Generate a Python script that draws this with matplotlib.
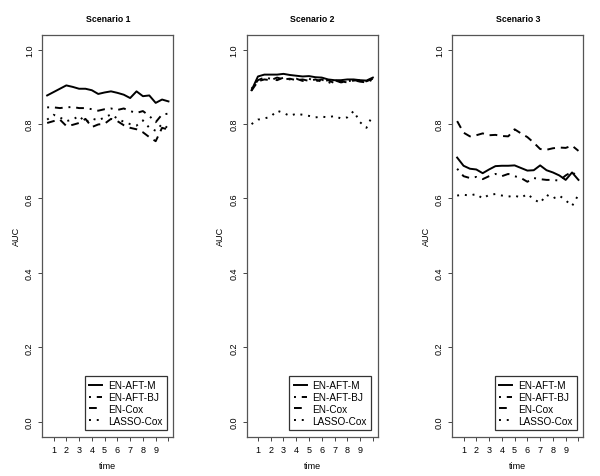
import matplotlib
matplotlib.use('Agg')
import matplotlib.pyplot as plt

plt.rcParams['font.family'] = ['Liberation Sans', 'DejaVu Sans']

# evaluation times
time = [0.5, 1.0, 1.5, 2.0, 2.5, 3.0, 3.5, 4.0, 4.5, 5.0,
        5.5, 6.0, 6.5, 7.0, 7.5, 8.0, 8.5, 9.0, 9.5, 10.0]

methods = ['EN-AFT-M', 'EN-AFT-BJ', 'EN-Cox', 'LASSO-Cox']
titles = ['Scenario 1', 'Scenario 2', 'Scenario 3']

s1_aft_m = [0.877, 0.886, 0.895, 0.904, 0.900, 0.895, 0.895, 0.891, 0.881, 0.885,
            0.888, 0.884, 0.879, 0.870, 0.888, 0.875, 0.877, 0.857, 0.866, 0.861]
s1_aft_bj = [0.845, 0.845, 0.843, 0.845, 0.846, 0.843, 0.843, 0.840, 0.836, 0.840,
             0.842, 0.838, 0.842, 0.835, 0.830, 0.835, 0.822, 0.805, 0.826, 0.828]
s1_en_cox = [0.803, 0.808, 0.812, 0.795, 0.798, 0.803, 0.814, 0.792, 0.799, 0.801,
             0.814, 0.808, 0.797, 0.790, 0.786, 0.778, 0.765, 0.754, 0.790, 0.785]
s1_lasso = [0.812, 0.825, 0.818, 0.808, 0.812, 0.822, 0.805, 0.815, 0.810, 0.818,
            0.826, 0.815, 0.806, 0.800, 0.796, 0.810, 0.790, 0.782, 0.800, 0.788]

s2_aft_m = [0.891, 0.928, 0.933, 0.933, 0.933, 0.935, 0.932, 0.930, 0.928, 0.929,
            0.926, 0.925, 0.920, 0.918, 0.918, 0.920, 0.920, 0.918, 0.917, 0.925]
s2_aft_bj = [0.895, 0.918, 0.925, 0.922, 0.918, 0.925, 0.920, 0.922, 0.916, 0.922,
             0.915, 0.920, 0.910, 0.918, 0.912, 0.915, 0.918, 0.914, 0.912, 0.920]
s2_en_cox = [0.890, 0.915, 0.920, 0.918, 0.925, 0.920, 0.922, 0.918, 0.920, 0.916,
             0.920, 0.914, 0.918, 0.910, 0.915, 0.912, 0.917, 0.918, 0.915, 0.922]
s2_lasso = [0.800, 0.812, 0.815, 0.820, 0.836, 0.830, 0.822, 0.828, 0.825, 0.822,
            0.818, 0.820, 0.818, 0.822, 0.815, 0.818, 0.835, 0.805, 0.790, 0.825]

s3_aft_m = [0.710, 0.688, 0.680, 0.678, 0.668, 0.678, 0.687, 0.688, 0.688, 0.689,
            0.682, 0.675, 0.676, 0.689, 0.676, 0.670, 0.662, 0.650, 0.670, 0.650]
s3_aft_bj = [0.680, 0.660, 0.655, 0.658, 0.652, 0.660, 0.666, 0.660, 0.666, 0.660,
             0.655, 0.645, 0.655, 0.652, 0.650, 0.650, 0.648, 0.662, 0.672, 0.655]
s3_en_cox = [0.808, 0.777, 0.767, 0.770, 0.775, 0.770, 0.771, 0.768, 0.767, 0.786,
             0.775, 0.765, 0.750, 0.733, 0.731, 0.735, 0.737, 0.736, 0.742, 0.728]
s3_lasso = [0.608, 0.610, 0.608, 0.612, 0.600, 0.610, 0.612, 0.608, 0.605, 0.608,
            0.602, 0.612, 0.598, 0.588, 0.610, 0.600, 0.608, 0.595, 0.580, 0.610]

scenarios = [
    [s1_aft_m, s1_aft_bj, s1_en_cox, s1_lasso],
    [s2_aft_m, s2_aft_bj, s2_en_cox, s2_lasso],
    [s3_aft_m, s3_aft_bj, s3_en_cox, s3_lasso],
]

styles = ['-', (0, (1, 3, 4, 3)), (0, (4, 3)), (0, (1, 3))]

W, H = 600, 477
fig = plt.figure(figsize=(6, 4.77), dpi=100)
lefts = [42.3, 246.7, 452.3]
ax_w, ax_top, ax_bot = 131, 35.8, 437.6

for k in range(3):
    ax = fig.add_axes([lefts[k] / W, 1 - ax_bot / H, ax_w / W, (ax_bot - ax_top) / H])
    for vals, ls, lab in zip(scenarios[k], styles, methods):
        ax.plot(time, vals, color='black', linestyle=ls, linewidth=1.4, label=lab)
    ax.set_xlim(0.12, 10.38)
    ax.set_ylim(-0.04, 1.04)
    ax.set_xticks(range(1, 11))
    ax.set_xticklabels([str(i) for i in range(1, 10)] + [''])
    ax.set_yticks([0.0, 0.2, 0.4, 0.6, 0.8, 1.0])
    ax.set_yticklabels(['0.0', '0.2', '0.4', '0.6', '0.8', '1.0'], rotation=90, va='center')
    ax.tick_params(length=3, width=0.7, color='#444', labelsize=6.5, pad=3)
    for sp in ax.spines.values():
        sp.set_color('#555')
        sp.set_linewidth(0.9)
    ax.set_xlabel('time', fontsize=6.5, labelpad=5)
    ax.set_ylabel('AUC', fontsize=6.5, labelpad=3)
    ax.set_title(titles[k], fontsize=6.3, fontweight='bold', pad=10)
    leg = ax.legend(loc='lower right', bbox_to_anchor=(0.952, 0.016), fontsize=7.2,
                    handlelength=1.3, handletextpad=0.6, labelspacing=0.18,
                    borderpad=0.45, borderaxespad=0, fancybox=False, framealpha=1)
    leg.get_frame().set_edgecolor('#333')
    leg.get_frame().set_linewidth(0.9)

fig.savefig('out.png', dpi=100)
